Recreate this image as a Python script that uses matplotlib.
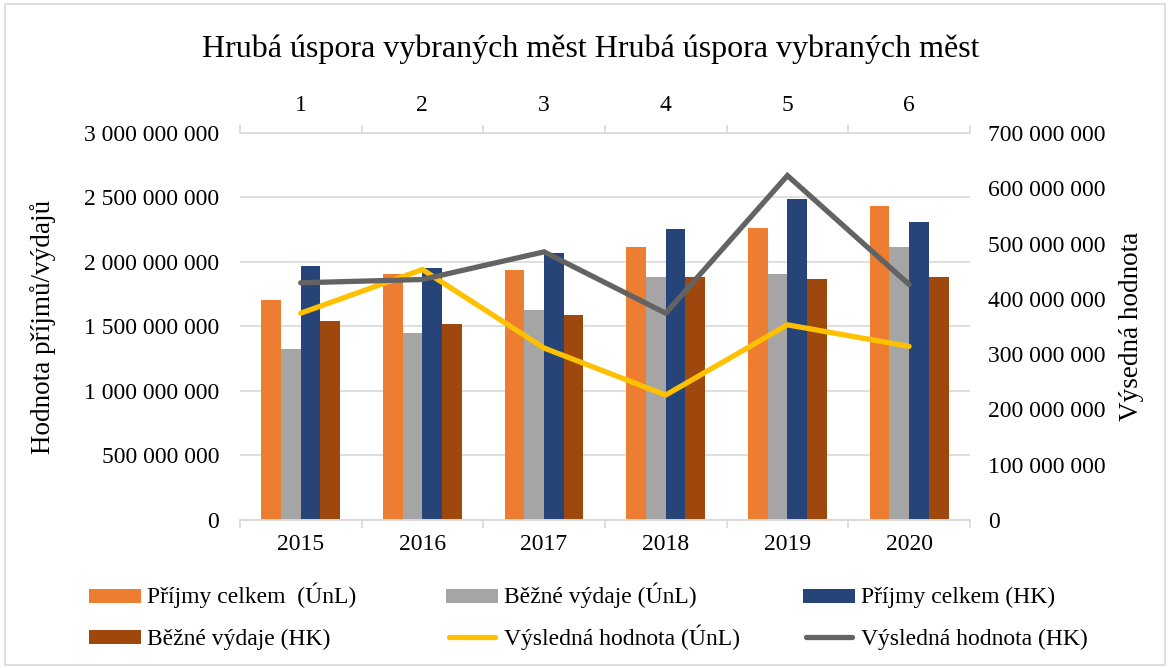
import numpy as np
import matplotlib.pyplot as plt
from matplotlib.patches import Rectangle
from matplotlib.lines import Line2D
from matplotlib.ticker import FuncFormatter

plt.rcParams['font.family'] = ['Liberation Serif', 'DejaVu Serif']

years = ['2015', '2016', '2017', '2018', '2019', '2020']
top_labels = ['1', '2', '3', '4', '5', '6']

prijmy_unl = [1.703e9, 1.905e9, 1.935e9, 2.114e9, 2.264e9, 2.437e9]
vydaje_unl = [1.328e9, 1.452e9, 1.625e9, 1.886e9, 1.909e9, 2.119e9]
prijmy_hk = [1.971e9, 1.956e9, 2.072e9, 2.256e9, 2.491e9, 2.308e9]
vydaje_hk = [1.543e9, 1.519e9, 1.589e9, 1.881e9, 1.866e9, 1.881e9]

vysledna_unl = [374e6, 453e6, 311e6, 226e6, 353e6, 314e6]
vysledna_hk = [429e6, 435e6, 485e6, 374e6, 623e6, 426e6]

bar_series = [
    (prijmy_unl, '#ED7D31', 'Příjmy celkem  (ÚnL)'),
    (vydaje_unl, '#A5A5A5', 'Běžné výdaje (ÚnL)'),
    (prijmy_hk, '#264478', 'Příjmy celkem (HK)'),
    (vydaje_hk, '#9E480E', 'Běžné výdaje (HK)'),
]
line_series = [
    (vysledna_unl, '#FFC000', 'Výsledná hodnota (ÚnL)'),
    (vysledna_hk, '#636363', 'Výsledná hodnota (HK)'),
]

def space_fmt(v, pos):
    return f'{int(round(v)):,}'.replace(',', ' ')

W, H = 1170, 668
fig = plt.figure(figsize=(W / 100, H / 100), dpi=100)
ax = fig.add_axes([0.205, 0.2216, 0.624, 0.5793])
ax2 = ax.twinx()

x = np.arange(len(years))
w = 0.162
for i, (vals, col, lab) in enumerate(bar_series):
    ax.bar(x + (i - 1.5) * w, vals, width=w, color=col, label=lab, zorder=2)
for vals, col, lab in line_series:
    ax2.plot(x, vals, color=col, lw=3.8, label=lab, solid_capstyle='round',
             solid_joinstyle='miter')

ax.set_xlim(-0.5, 5.5)
ax.set_ylim(0, 3e9)
ax.set_yticks(np.arange(0, 3.01e9, 5e8))
ax.yaxis.set_major_formatter(FuncFormatter(space_fmt))
ax2.set_ylim(0, 7e8)
ax2.set_yticks(np.arange(0, 7.01e8, 1e8))
ax2.yaxis.set_major_formatter(FuncFormatter(space_fmt))

ax.grid(axis='y', color='#d9d9d9', lw=1.2, zorder=0)
ax.set_axisbelow(True)
for a in (ax, ax2):
    for s in ['left', 'right', 'top']:
        a.spines[s].set_visible(False)
    a.spines['bottom'].set_color('#d9d9d9')
    a.spines['bottom'].set_linewidth(1.2)

ax.tick_params(axis='y', length=0, labelsize=17, pad=15)
ax2.tick_params(axis='y', length=0, labelsize=17, pad=13)

bounds = np.arange(-0.5, 6.0, 1.0)
ax.set_xticks(x)
ax.set_xticklabels(years)
ax.set_xticks(bounds, minor=True)
ax.tick_params(axis='x', which='major', length=0, labelsize=17, pad=10)
ax.tick_params(axis='x', which='minor', length=6, color='#d9d9d9', width=1.2)

sec = ax.secondary_xaxis('top')
sec.set_xticks(x)
sec.set_xticklabels(top_labels)
sec.set_xticks(bounds, minor=True)
sec.tick_params(axis='x', which='major', length=0, labelsize=17, pad=12)
sec.tick_params(axis='x', which='minor', length=6, color='#d9d9d9', width=1.2)
sec.spines['top'].set_color('#d9d9d9')
sec.spines['top'].set_linewidth(1.2)

ax.set_ylabel('Hodnota příjmů/výdajů', fontsize=19.5, labelpad=20)
ax2.set_ylabel('Výsedná hodnota', fontsize=19.5, labelpad=10)

fig.text(0.505, 0.927, 'Hrubá úspora vybraných měst Hrubá úspora vybraných měst',
         ha='center', va='center', fontsize=23)

# legend drawn by hand: three equal columns, two rows (Excel style)
entries = [
    ('bar', bar_series[0][1], bar_series[0][2]),
    ('bar', bar_series[1][1], bar_series[1][2]),
    ('bar', bar_series[2][1], bar_series[2][2]),
    ('bar', bar_series[3][1], bar_series[3][2]),
    ('line', line_series[0][1], line_series[0][2]),
    ('line', line_series[1][1], line_series[1][2]),
]
col_x = [89, 446, 803]
row_y = [596, 637]
for k, (kind, col, lab) in enumerate(entries):
    px = col_x[k % 3]
    py = row_y[k // 3]
    fx, fy = px / W, 1 - py / H
    if kind == 'bar':
        fig.add_artist(Rectangle((fx, fy - 7 / H), 52 / W, 14 / H,
                                 transform=fig.transFigure, color=col, lw=0))
    else:
        fig.add_artist(Line2D([fx + 3 / W, fx + 49 / W], [fy, fy], transform=fig.transFigure,
                              color=col, lw=3.8, solid_capstyle='round'))
    fig.text(fx + 58 / W, fy - 7.5 / H, lab, ha='left', va='baseline', fontsize=17)

fig.add_artist(Rectangle((0.004, 0.004), 0.992, 0.99, transform=fig.transFigure,
                         fill=False, edgecolor='#d9d9d9', lw=1.2))

fig.savefig('out.png', dpi=100)
